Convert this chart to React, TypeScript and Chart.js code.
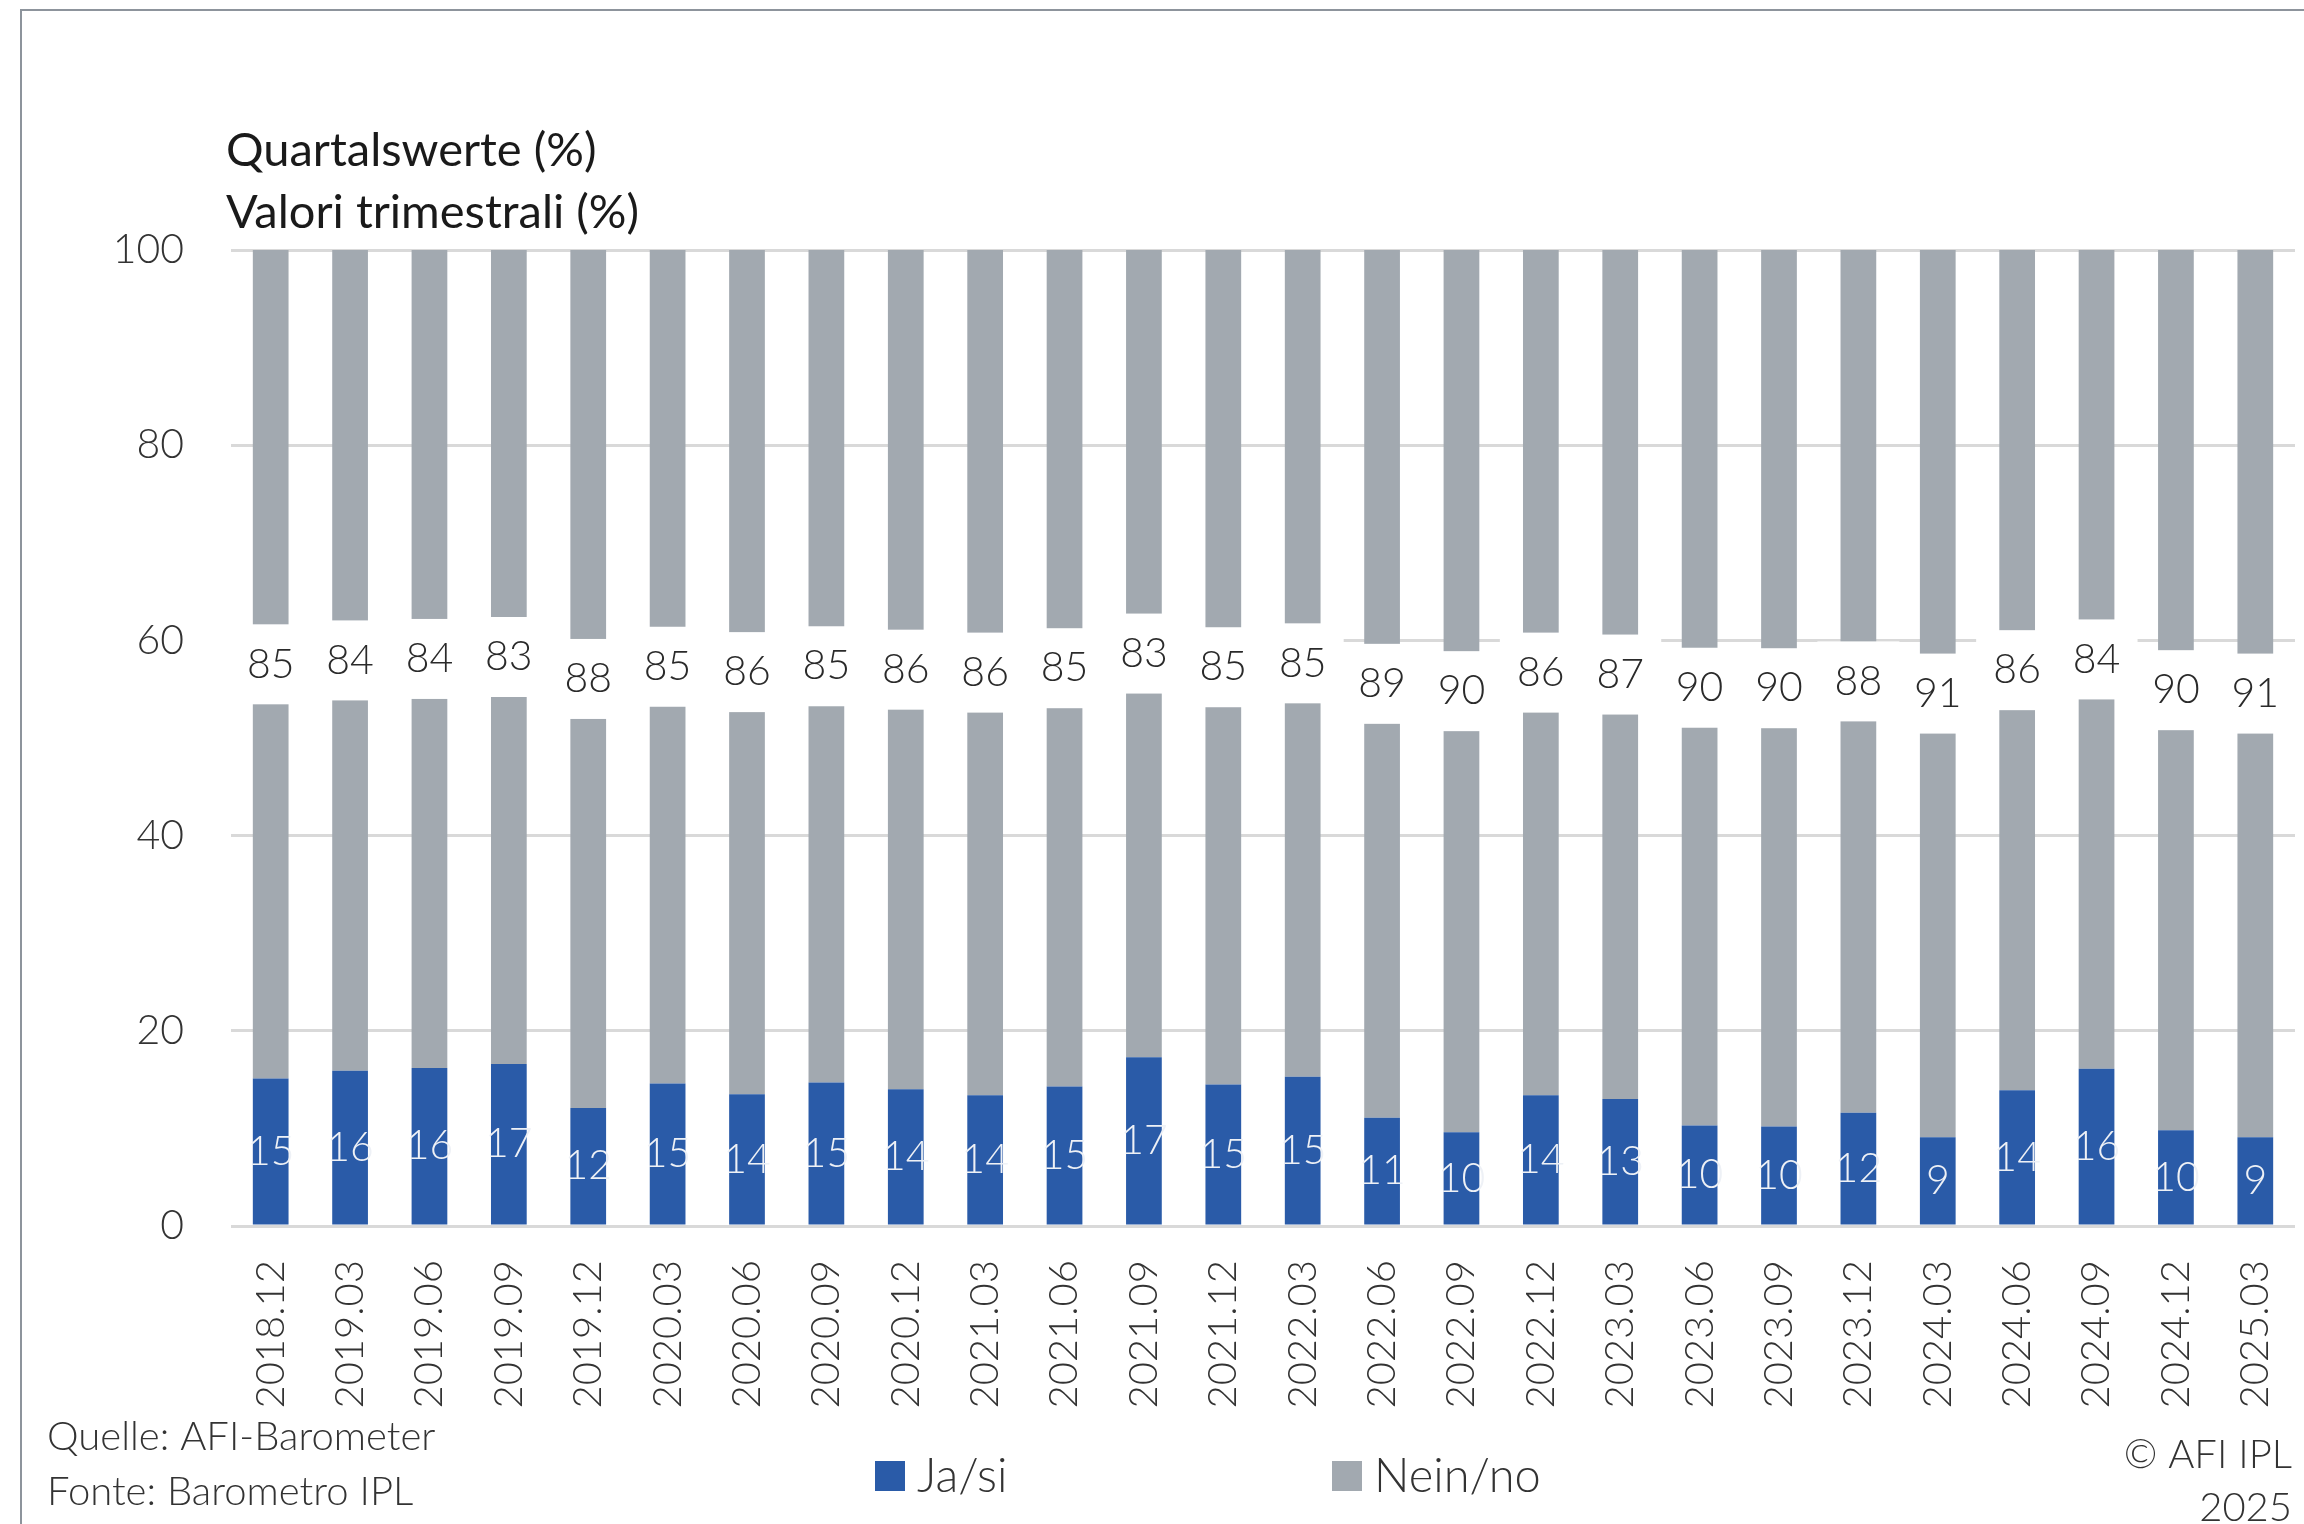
import React, { useEffect, useRef } from "react";
import { Chart, registerables } from "chart.js";

Chart.register(...registerables);

const categories = [
  "2018.12", "2019.03", "2019.06", "2019.09", "2019.12", "2020.03", "2020.06",
  "2020.09", "2020.12", "2021.03", "2021.06", "2021.09", "2021.12", "2022.03",
  "2022.06", "2022.09", "2022.12", "2023.03", "2023.06", "2023.09", "2023.12",
  "2024.03", "2024.06", "2024.09", "2024.12", "2025.03",
];

const yesValues = [
  15.1, 15.9, 16.2, 16.6, 12.1, 14.6, 13.5, 14.7, 14.0, 13.4, 14.3, 17.3, 14.5,
  15.3, 11.1, 9.6, 13.4, 13.0, 10.3, 10.2, 11.6, 9.1, 13.9, 16.1, 9.8, 9.1,
];

const noValues = [
  84.9, 84.1, 83.8, 83.4, 87.9, 85.4, 86.5, 85.3, 86.0, 86.6, 85.7, 82.7, 85.5,
  84.7, 88.9, 90.4, 86.6, 87.0, 89.7, 89.8, 88.4, 90.9, 86.1, 83.9, 90.2, 90.9,
];

const yesLabels = [
  15, 16, 16, 17, 12, 15, 14, 15, 14, 14, 15, 17, 15, 15, 11, 10, 14, 13, 10, 10,
  12, 9, 14, 16, 10, 9,
];

const noLabels = [
  85, 84, 84, 83, 88, 85, 86, 85, 86, 86, 85, 83, 85, 85, 89, 90, 86, 87, 90, 90,
  88, 91, 86, 84, 90, 91,
];

const seriesNames = ["Ja/si", "Nein/no"];
const titleLines = ["Quartalswerte (%)", "Valori trimestrali (%)"];
const sourceLines = ["Quelle: AFI-Barometer", "Fonte: Barometro IPL"];
const copyrightLines = ["© AFI IPL", "2025"];

const W = 2304;
const H = 1524;
const FONT = "Lato";
const BLUE = "#2a5ba8";
const GRAY = "#a2a9b0";
const TEXT = "#333333";

const decorPlugin = {
  id: "decor",
  beforeDraw(chart: any) {
    const ctx = chart.ctx;
    ctx.save();
    ctx.fillStyle = "#ffffff";
    ctx.fillRect(0, 0, W, H);
    ctx.strokeStyle = "#8d949c";
    ctx.lineWidth = 2;
    ctx.beginPath();
    ctx.moveTo(21, H);
    ctx.lineTo(21, 10);
    ctx.lineTo(W, 10);
    ctx.stroke();
    ctx.restore();
  },
  afterDraw(chart: any) {
    const ctx = chart.ctx;
    ctx.save();
    // title
    ctx.fillStyle = "#1a1a1a";
    ctx.font = `400 47px ${FONT}`;
    ctx.textAlign = "left";
    ctx.textBaseline = "middle";
    ctx.fillText(titleLines[0], 226, 151);
    ctx.fillText(titleLines[1], 226, 213);

    // sources
    ctx.fillStyle = TEXT;
    ctx.font = `300 40px ${FONT}`;
    ctx.fillText(sourceLines[0], 47, 1437);
    ctx.fillText(sourceLines[1], 47, 1492);

    // copyright
    ctx.textAlign = "right";
    ctx.fillText(copyrightLines[0], 2292, 1455);
    ctx.fillText(copyrightLines[1], 2292, 1508);

    // legend
    const colors = [BLUE, GRAY];
    const xs = [875, 1332];
    ctx.textAlign = "left";
    ctx.font = `300 47px ${FONT}`;
    for (let i = 0; i < 2; i++) {
      ctx.fillStyle = colors[i];
      ctx.fillRect(xs[i], 1461, 30, 30);
      ctx.fillStyle = TEXT;
      ctx.fillText(seriesNames[i], xs[i] + 42, 1477);
    }
    ctx.restore();
  },
  afterDatasetsDraw(chart: any) {
    const ctx = chart.ctx;
    ctx.save();
    ctx.font = `300 41px ${FONT}`;
    ctx.textAlign = "center";
    ctx.textBaseline = "middle";
    const yesMeta = chart.getDatasetMeta(0);
    yesMeta.data.forEach((el: any, i: number) => {
      const cy = (el.y + el.base) / 2;
      ctx.fillStyle = "#eef1f6";
      ctx.fillText(String(yesLabels[i]), el.x, cy);
    });
    const noMeta = chart.getDatasetMeta(1);
    noMeta.data.forEach((el: any, i: number) => {
      const cy = (el.y + el.base) / 2;
      ctx.fillStyle = "#ffffff";
      ctx.fillRect(el.x - 41, cy - 40, 82, 80);
      ctx.fillStyle = "#2a2a2a";
      ctx.fillText(String(noLabels[i]), el.x, cy);
    });
    ctx.restore();
  },
};

export default function App() {
  const ref = useRef<HTMLCanvasElement | null>(null);

  useEffect(() => {
    document.body.style.margin = "0";
    document.body.style.overflow = "hidden";
    const canvas = ref.current;
    if (!canvas) return;
    const chart = new Chart(canvas, {
      type: "bar",
      data: {
        labels: categories,
        datasets: [
          {
            label: seriesNames[0],
            data: yesValues,
            backgroundColor: BLUE,
            categoryPercentage: 1,
            barPercentage: 0.45,
          },
          {
            label: seriesNames[1],
            data: noValues,
            backgroundColor: GRAY,
            categoryPercentage: 1,
            barPercentage: 0.45,
          },
        ],
      },
      options: {
        animation: false,
        responsive: false,
        devicePixelRatio: 1,
        layout: { padding: { top: 250, right: 9, left: 0, bottom: 0 } },
        plugins: {
          legend: { display: false },
          tooltip: { enabled: false },
          title: { display: false },
        },
        scales: {
          x: {
            stacked: true,
            grid: { display: false, drawTicks: false },
            border: { display: false },
            ticks: {
              minRotation: 90,
              maxRotation: 90,
              autoSkip: false,
              padding: 34,
              color: TEXT,
              font: { family: FONT, size: 40, weight: "300" },
            },
            afterFit: (s: any) => {
              s.height = 298;
              s.paddingLeft = 0;
              s.paddingRight = 0;
            },
          },
          y: {
            stacked: true,
            min: 0,
            max: 100,
            grid: { color: "#d9d9d9", lineWidth: 3, drawTicks: false },
            border: { display: false },
            ticks: {
              stepSize: 20,
              padding: 47,
              color: TEXT,
              font: { family: FONT, size: 41, weight: "300" },
            },
            afterFit: (s: any) => {
              s.width = 231;
              s.paddingTop = 0;
              s.paddingBottom = 0;
            },
          },
        },
      },
      plugins: [decorPlugin],
    });
    return () => chart.destroy();
  }, []);

  return (
    <div style={{ width: W, height: H, overflow: "hidden" }}>
      <canvas
        ref={ref}
        width={W}
        height={H}
        style={{ display: "block", width: W, height: H }}
      />
    </div>
  );
}
